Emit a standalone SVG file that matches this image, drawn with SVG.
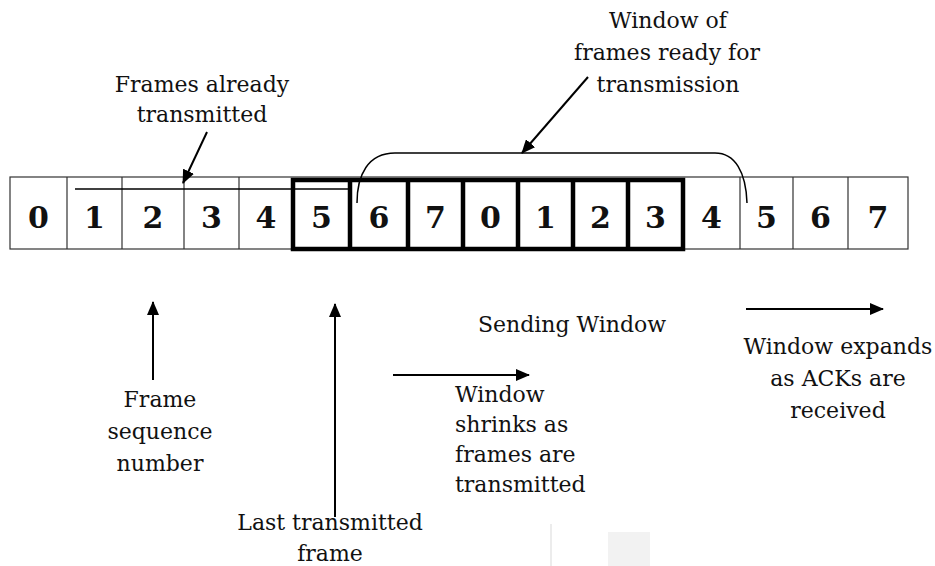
<svg xmlns="http://www.w3.org/2000/svg" width="935" height="566" viewBox="0 0 935 566">
<defs>
<marker id="ah" markerWidth="14" markerHeight="12" refX="13" refY="6" orient="auto" markerUnits="userSpaceOnUse">
<path d="M0,0 L14,6 L0,12 Z" fill="#000"/>
</marker>
<style>
.lbl{font-family:"DejaVu Serif","Liberation Serif",serif;font-size:22px;fill:#111}
.num{font-family:"DejaVu Serif","Liberation Serif",serif;font-size:30px;font-weight:bold;fill:#111;text-anchor:middle}
.thin{fill:none;stroke:#333;stroke-width:1.2}
.thick{fill:none;stroke:#000;stroke-width:4.5}
.conn{fill:none;stroke:#000;stroke-width:2}
</style>
</defs>
<rect width="935" height="566" fill="#fff"/>
<g id="cells">
<rect class="thin" x="10" y="177" width="898" height="72"/>
<path class="thin" d="M67,177V249 M122,177V249 M184,177V249 M239,177V249 M740,177V249 M793,177V249 M848,177V249"/>
</g>
<g id="window">
<rect class="thick" x="293" y="180" width="390" height="69"/>
<path class="thick" d="M350,180V249 M408,180V249 M463,180V249 M518,180V249 M573,180V249 M628,180V249"/>
</g>
<g id="numbers">
<text class="num" x="38.5" y="228">0</text>
<text class="num" x="94.5" y="228">1</text>
<text class="num" x="153" y="228">2</text>
<text class="num" x="211.5" y="228">3</text>
<text class="num" x="266" y="228">4</text>
<text class="num" x="321.5" y="228">5</text>
<text class="num" x="379" y="228">6</text>
<text class="num" x="435.5" y="228">7</text>
<text class="num" x="490.5" y="228">0</text>
<text class="num" x="545.5" y="228">1</text>
<text class="num" x="600.5" y="228">2</text>
<text class="num" x="655.5" y="228">3</text>
<text class="num" x="711.5" y="228">4</text>
<text class="num" x="766.5" y="228">5</text>
<text class="num" x="820.5" y="228">6</text>
<text class="num" x="878" y="228">7</text>
</g>
<g id="connectors">
<path d="M75,189H348" fill="none" stroke="#000" stroke-width="1.5"/>
<path d="M357,203 C357,175 368,153 395,153 L715,153 C735,153 746,172 747,203" fill="none" stroke="#000" stroke-width="1.5"/>
<line class="conn" x1="207" y1="132" x2="183" y2="183" marker-end="url(#ah)"/>
<line class="conn" x1="588" y1="77" x2="522" y2="153" marker-end="url(#ah)"/>
<line class="conn" x1="153" y1="380" x2="153" y2="302" marker-end="url(#ah)"/>
<line class="conn" x1="335" y1="517" x2="335" y2="304" marker-end="url(#ah)"/>
<line class="conn" x1="393" y1="375" x2="529" y2="375" marker-end="url(#ah)"/>
<line class="conn" x1="746" y1="309" x2="883" y2="309" marker-end="url(#ah)"/>
</g>
<g id="label-frames-transmitted">
<text class="lbl" text-anchor="middle" x="202" y="92">Frames already</text>
<text class="lbl" text-anchor="middle" x="202" y="122">transmitted</text>
</g>
<g id="label-window-ready">
<text class="lbl" text-anchor="middle" x="668" y="28">Window of</text>
<text class="lbl" text-anchor="middle" x="667" y="60">frames ready for</text>
<text class="lbl" text-anchor="middle" x="668" y="92">transmission</text>
</g>
<g id="label-sending">
<text class="lbl" text-anchor="middle" x="572" y="332">Sending Window</text>
</g>
<g id="label-shrinks">
<text class="lbl" x="455" y="402">Window</text>
<text class="lbl" x="455" y="432">shrinks as</text>
<text class="lbl" x="455" y="462">frames are</text>
<text class="lbl" x="455" y="492">transmitted</text>
</g>
<g id="label-expands">
<text class="lbl" text-anchor="middle" x="838" y="354">Window expands</text>
<text class="lbl" text-anchor="middle" x="838" y="386">as ACKs are</text>
<text class="lbl" text-anchor="middle" x="838" y="418">received</text>
</g>
<g id="label-seq">
<text class="lbl" text-anchor="middle" x="160" y="407">Frame</text>
<text class="lbl" text-anchor="middle" x="160" y="439">sequence</text>
<text class="lbl" text-anchor="middle" x="160" y="471">number</text>
</g>
<g id="label-last">
<text class="lbl" text-anchor="middle" x="330" y="530">Last transmitted</text>
<text class="lbl" text-anchor="middle" x="330" y="561">frame</text>
</g>
<g id="artifacts">
<rect x="550" y="524" width="2" height="42" fill="#ececec"/>
<rect x="608" y="532" width="42" height="34" fill="#f2f2f2"/>
</g>
</svg>
